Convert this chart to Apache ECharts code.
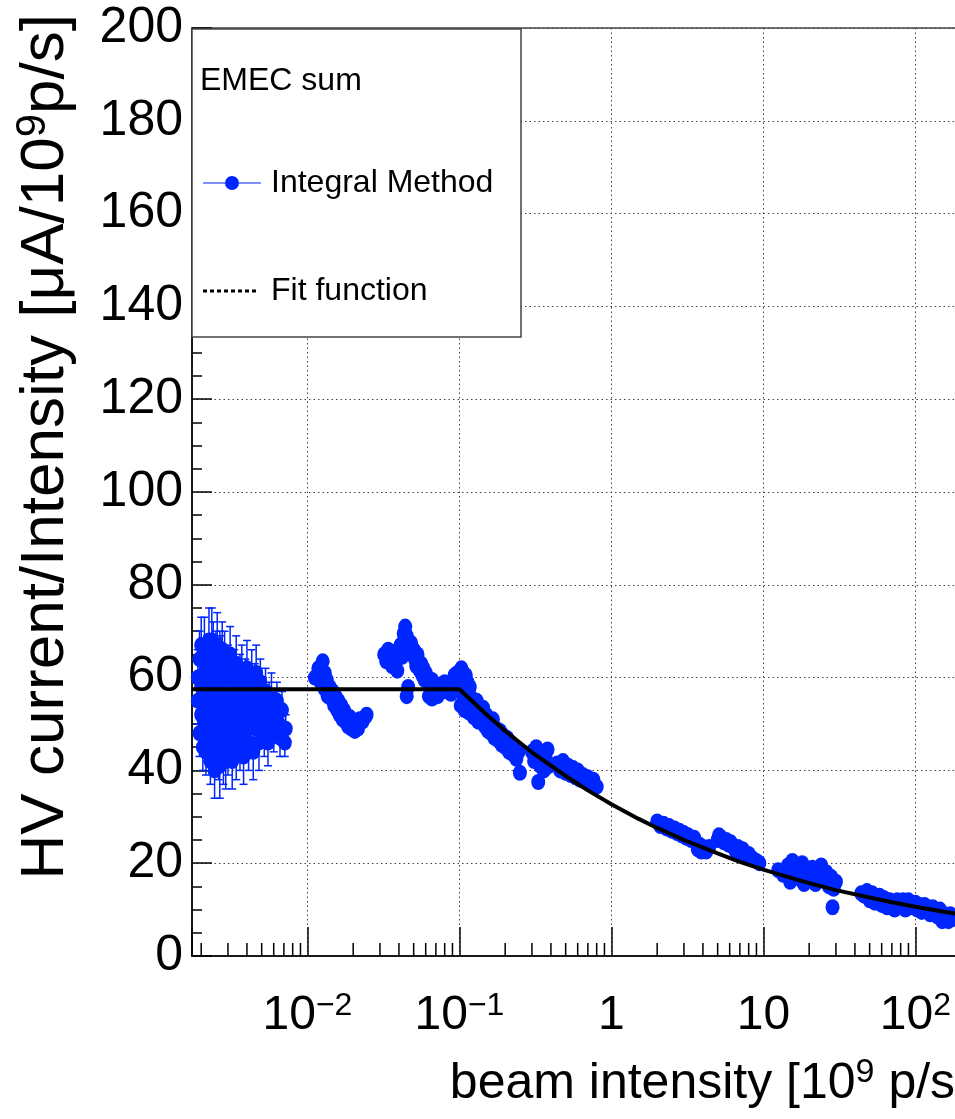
<!DOCTYPE html>
<html><head><meta charset="utf-8">
<script src="https://cdn.jsdelivr.net/npm/echarts@6/dist/echarts.min.js"></script>
<style>html,body{margin:0;padding:0;background:#fff;overflow:hidden}#c{width:955px;height:1119px}</style>
</head><body><div id="c"></div>
<script>
// ---------------- data ----------------
// low-intensity scan, drawn with visible error bars
const lowX = [0.0019,0.0019,0.00195,0.00195,0.0020,0.0020,0.0020,0.00205,0.00205,0.0021,0.0021,0.0021,0.00215,0.00215,0.0022,0.0022,0.0022,0.00225,0.00225,0.0023,0.0023,0.0023,0.00235,0.00235,0.0024,0.0024,0.0024,0.00245,0.00245,0.0025,0.0025,0.0025,0.00255,0.00255,0.0026,0.0026,0.0026,0.00265,0.00265,0.0027,0.0027,0.0027,0.00275,0.00275,0.0028,0.0028,0.0028,0.00285,0.00285,0.0029,0.0029,0.0029,0.0030,0.0030,0.0030,0.0031,0.0031,0.0031,0.0032,0.0032,0.0032,0.0033,0.0033,0.0034,0.0034,0.0034,0.0035,0.0035,0.0036,0.0036,0.0037,0.0037,0.0038,0.0038,0.0039,0.0039,0.0040,0.0040,0.0041,0.0042,0.0042,0.0043,0.0044,0.0044,0.0045,0.0046,0.0046,0.0047,0.0048,0.0048,0.0049,0.0050,0.0051,0.0052,0.0053,0.0054,0.0055,0.0056,0.0057,0.0058,0.0060,0.0061,0.0063,0.0065,0.0066,0.0068,0.0071,0.0072];
const lowY = [55,60,48,64,52,58,67,45,56,61,50,66,54,44,59,63,47,53,68,57,42,62,50,68,55,46,65,59,40,52,63,48,56,67,44,60,53,41,64,57,50,62,46,66,55,43,59,51,64,48,57,42,53,61,45,58,50,65,47,55,42,60,52,57,44,63,49,54,59,46,61,51,56,43,48,58,53,62,46,57,50,60,54,44,58,49,61,52,56,46,59,51,55,48,57,52,46,54,50,56,48,52,55,50,47,53,46,49];
const lowErr = [5,6,5,6,5,6,6,5,5,6,5,7,5,5,6,6,5,5,7,6,5,6,5,7,6,6,7,6,6,5,7,6,6,7,6,6,6,7,6,6,6,7,6,6,6,6,6,6,6,6,6,6,6,6,6,6,6,6,6,5,6,6,5,6,6,6,6,5,6,6,6,5,5,6,5,6,5,6,6,5,5,6,5,6,5,5,6,5,5,6,5,5,5,5,5,5,5,5,5,5,4,4,4,4,4,4,3,3];
// higher-intensity runs (error bars smaller than the markers)
const highX = [0.0112,0.0118,0.0122,0.0126,0.013,0.013,0.0134,0.0136,0.014,0.0144,0.0147,0.015,0.0153,0.0157,0.016,0.0163,0.0167,0.017,0.0174,0.0178,0.018,0.0185,0.019,0.0195,0.02,0.0205,0.021,0.0215,0.022,0.023,0.024,0.0245,
  0.032,0.033,0.034,0.035,0.036,0.037,0.038,0.039,0.040,0.041,0.042,0.043,0.044,0.045,0.046,0.047,0.048,0.049,0.050,0.051,0.052,0.053,0.054,0.055,0.056,0.057,0.058,0.059,0.060,0.062,0.064,0.066,0.068,0.070,0.046,0.045,0.063,0.066,0.072,0.075,0.078,0.080,0.083,0.085,0.088,0.090,0.093,0.095,0.097,0.100,0.103,0.106,0.110,0.113,0.117,
  0.102,0.105,0.108,0.112,0.115,0.118,0.121,0.124,0.127,0.13,0.133,0.136,0.14,0.143,0.147,0.15,0.154,0.158,0.162,0.166,0.17,0.175,0.18,0.185,0.19,0.195,0.2,0.206,0.212,0.218,0.224,0.23,0.237,0.245,0.25,0.33,0.30,0.31,0.32,0.34,0.35,0.36,0.37,0.38,0.39,
  0.44,0.46,0.48,0.5,0.52,0.54,0.56,0.58,0.6,0.62,0.65,0.68,0.7,0.73,0.76,0.8,
  2.0,2.1,2.2,2.3,2.4,2.5,2.6,2.7,2.8,2.9,3.0,3.1,3.2,3.35,3.5,3.6,3.7,3.8,3.9,4.0,4.2,4.4,
  5.0,5.1,5.3,5.5,5.7,5.9,6.1,6.3,6.6,6.8,7.0,7.3,7.6,8.0,8.5,9.0,9.4,
  12.5,13.5,14.5,15.5,16,17,17.5,18,19,20,21,22,23,24,25,26,27,28,29,30,28.5,18.5,15,
  44,46,48,50,52,54,56,58,60,62,65,68,70,73,76,80,83,86,90,93,96,100,103,107,110,115,120,125,130,135,140,145,150,155,160,165,170,175,180,185];
const highY = [60,62,59,63.5,61,57.5,59.5,56,58,55.5,57,54,56,53,55,52,54,51,53,50.5,52,49.5,51.5,49,50.5,48.5,50,49,51,50.5,51.5,52,
  65,63.5,66,64,62.5,65.5,63,61.5,65,67,64.5,69.5,71,69,68,66.5,67.5,65,66,64,62.5,65,63.5,61.5,63,60.5,62,59.5,61,60,58.5,59.5,58,57,58,56,56,55.5,56,58.5,57.5,59,57,58.5,56.5,59,60.5,58,61,60,62,61,60.5,59,58,
  54,56.5,53,55,52.5,56,54,51.5,53.5,55,50.5,52.5,51,53.5,49.5,52,48.5,50.5,48,51,47,49,46.5,48.5,45.5,47.5,45,47,44,46,43.5,45,42.5,44,39.5,37.5,44,42,45,41,43.5,40,42.5,44.5,41,
  41.5,40,42,39.5,41,39,40.5,38.5,40,38,39,37.5,38.5,37,38,36.5,
  29,28,28.5,27.5,28,27,27.5,26.5,27,26,26.5,25.5,26,25,25.5,24.5,23,24,22.5,23.5,22.5,23.5,
  25,26,25.5,24.5,25,24,24.5,23.5,22.5,23.5,22,23,21.5,22,21,20.5,20,
  18.5,17.5,19.5,20.5,18,19.5,16.5,20,18,17,19,15.5,18,19.5,16.5,18,15,17,14.5,16,10.5,15.5,16,
  13.5,13,14,12,13.5,11.5,12.5,13,11,12.5,10.5,12,11.5,10,12,11,12,10,12,10.5,11.5,11.5,10,11,9.5,11,10,9,10.5,9,8.5,10,7.5,9,8.5,7.5,9,8,8.5,8];
// fit function (flat, then falling)
const fitX = [0.00174,0.1,0.15,0.2,0.3,0.5,0.7,1,1.5,2,3,5,7,10,15,20,30,50,70,100,150,212];
const fitY = [57.5,57.5,52.1,48.5,43.9,38.8,35.7,32.7,29.6,27.6,25.0,22.1,20.3,18.6,16.9,15.7,14.2,12.6,11.6,10.6,9.6,8.8];
// tick labels
const xTickExp = [-2,-1,0,1,2];
const xTickText = ['{b|10}{s|−2}','{b|10}{s|−1}','{b|1}','{b|10}','{b|10}{s|2}'];
const xMin = 0.00174, xMax = 212;
const yMin = 0, yMax = 200, yStep = 20;

// ---------------- chart ----------------
const BLUE = '#0026ff';
const SANS = '"Liberation Sans",Arial,sans-serif';

const lowData = lowX.map((x,i)=>[x, lowY[i], lowErr[i]]);
const highData = highX.map((x,i)=>[x, highY[i]]);
const allPts = lowData.map(d=>[d[0],d[1]]).concat(highData);
const fitData = fitX.map((x,i)=>[x, fitY[i]]);
const minorTicks = [];
for (let e = -3; e <= 2; e++) for (let m = 2; m <= 9; m++) {
  const v = m * Math.pow(10, e);
  if (v > xMin && v < xMax) minorTicks.push([v, 0]);
}

const chart = echarts.init(document.getElementById('c'), null, {renderer:'canvas'});
chart.setOption({
  animation: false,
  backgroundColor: '#fff',
  grid: {left: 192, top: 28, width: 773, height: 928, outerBoundsMode: 'none', containLabel: false,
         show: true, borderColor: '#444', borderWidth: 1.5, backgroundColor: 'transparent'},
  xAxis: {
    type: 'log', logBase: 10, min: xMin, max: xMax,
    axisLine: {lineStyle: {color: '#000', width: 1.5}},
    axisTick: {inside: true, length: 29, lineStyle: {color: '#000', width: 1.5}},
    splitLine: {show: true, lineStyle: {color: '#444', width: 1, type: [1.5, 3]}},
    axisLabel: {
      margin: 34,
      formatter: function (v) {
        const l = Math.log10(v), e = Math.round(l);
        if (Math.abs(l - e) > 1e-6) return '';
        const i = xTickExp.indexOf(e);
        return i < 0 ? '' : xTickText[i];
      },
      rich: {
        b: {fontSize: 48, fontFamily: SANS, color: '#000', lineHeight: 52},
        s: {fontSize: 32, fontFamily: SANS, color: '#000', verticalAlign: 'top', lineHeight: 32}
      }
    },
    name: '{t|beam intensity [10}{s|9}{t| p/s]}',
    nameLocation: 'end', nameGap: 4, nameMoveOverlap: false,
    nameTextStyle: {
      align: 'right', verticalAlign: 'top', padding: [100, 0, 0, 0],
      rich: {
        t: {fontSize: 50, fontFamily: SANS, color: '#000', lineHeight: 56},
        s: {fontSize: 34, fontFamily: SANS, color: '#000', verticalAlign: 'top', lineHeight: 34}
      }
    }
  },
  yAxis: {
    type: 'value', min: yMin, max: yMax, interval: yStep,
    axisLine: {show: true, lineStyle: {color: '#000', width: 1.5}},
    axisTick: {show: true, inside: true, length: 20, lineStyle: {color: '#000', width: 1.5}},
    minorTick: {show: true, splitNumber: 4, length: 10, lineStyle: {color: '#000', width: 1.5}},
    splitLine: {show: true, lineStyle: {color: '#444', width: 1, type: [1.5, 3]}},
    axisLabel: {margin: 9, fontSize: 50, fontFamily: SANS, color: '#000'},
    name: '{t|HV current/Intensity [μA/10}{s|9}{t|p/s]}',
    nameLocation: 'end', nameGap: 14, nameRotate: 90, nameMoveOverlap: false,
    nameTextStyle: {
      align: 'right', verticalAlign: 'bottom', padding: [0, 0, 112, 0],
      rich: {
        t: {fontSize: 62, fontFamily: SANS, color: '#000', lineHeight: 68},
        s: {fontSize: 42, fontFamily: SANS, color: '#000', verticalAlign: 'top', lineHeight: 42}
      }
    }
  },
  legend: {
    orient: 'vertical', left: 198, top: 158, z: 100,
    itemWidth: 58, itemHeight: 14, itemGap: 68,
    textStyle: {fontSize: 32, fontFamily: SANS, color: '#000', lineHeight: 40, padding: [0, 0, 0, 5]},
    data: [
      {name: 'Integral Method', icon: 'path://M0,6.5L58,6.5L58,7.5L0,7.5Z M22,7A7,7 0 1,1 36,7A7,7 0 1,1 22,7Z'},
      {name: 'Fit function', icon: 'path://M0,0L0.01,0Z M58,14L57.99,14Z M0,5.5h4v3h-4Z M7,5.5h4v3h-4Z M14,5.5h4v3h-4Z M21,5.5h4v3h-4Z M28,5.5h4v3h-4Z M35,5.5h4v3h-4Z M42,5.5h4v3h-4Z M49,5.5h4v3h-4Z'}
    ]
  },
  graphic: [
    {type: 'rect', z: 50, shape: {x: 192, y: 29, width: 329, height: 308}, style: {fill: '#fff', stroke: '#444', lineWidth: 1.5}},
    {type: 'text', z: 101, x: 200, y: 81, style: {text: 'EMEC sum', fontSize: 32, fontFamily: SANS, fill: '#000', align: 'left', verticalAlign: 'middle'}}
  ],
  series: [
    {
      name: 'minor ticks', type: 'custom', silent: true, z: 1, clip: false,
      data: minorTicks, encode: {x: 0, y: 1},
      renderItem: function (params, api) {
        const p = api.coord([api.value(0), 0]);
        return {type: 'line', shape: {x1: p[0], y1: p[1], x2: p[0], y2: p[1] - 13}, style: {stroke: '#000', lineWidth: 1.5}};
      }
    },
    {
      name: 'error bars', type: 'custom', silent: true, z: 2,
      data: lowData, encode: {x: 0, y: 1},
      renderItem: function (params, api) {
        const x = api.value(0), y = api.value(1), e = api.value(2);
        const c = api.coord([x, y]);
        const t = api.coord([x, y + e])[1], b = api.coord([x, y - e])[1];
        const st = {stroke: BLUE, lineWidth: 1.5};
        return {type: 'group', children: [
          {type: 'line', shape: {x1: c[0], y1: t, x2: c[0], y2: b}, style: st},
          {type: 'line', shape: {x1: c[0] - 4, y1: t, x2: c[0] + 4, y2: t}, style: st},
          {type: 'line', shape: {x1: c[0] - 4, y1: b, x2: c[0] + 4, y2: b}, style: st}
        ]};
      }
    },
    {
      name: 'Integral Method', type: 'scatter', z: 3,
      data: allPts, symbol: 'circle', symbolSize: [14, 16],
      itemStyle: {color: BLUE, opacity: 1}
    },
    {
      name: 'Fit function', type: 'line', z: 4,
      data: fitData, showSymbol: false, symbol: 'none', smooth: false,
      color: '#000',
      lineStyle: {color: '#000', width: 4}
    }
  ]
});
</script></body></html>
